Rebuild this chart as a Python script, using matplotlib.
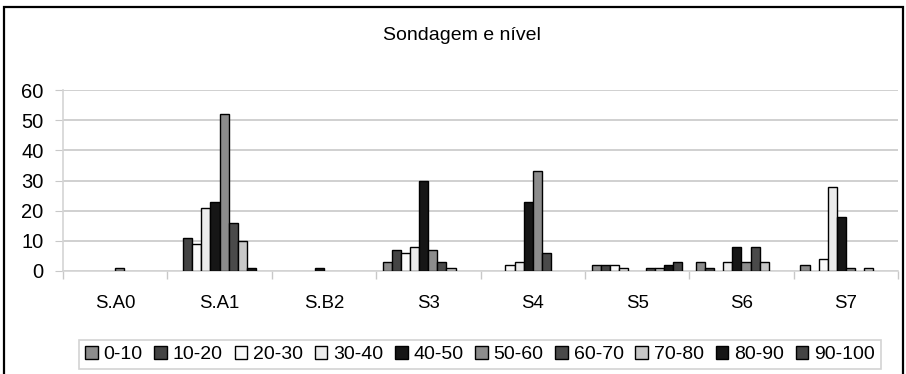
import matplotlib.pyplot as plt
from matplotlib.patches import Rectangle, Patch
import numpy as np

plt.rcParams['font.family'] = ['Liberation Sans', 'DejaVu Sans']

sondagens = ['S.A0', 'S.A1', 'S.B2', 'S3', 'S4', 'S5', 'S6', 'S7']
niveis = ['0-10', '10-20', '20-30', '30-40', '40-50', '50-60', '60-70', '70-80', '80-90', '90-100']

# valores por faixa (uma lista por faixa, na ordem das sondagens)
v_0_10 = [0, 0, 0, 3, 0, 2, 3, 2]
v_10_20 = [0, 11, 0, 7, 0, 2, 1, 0]
v_20_30 = [0, 9, 0, 6, 2, 2, 0, 4]
v_30_40 = [0, 21, 0, 8, 3, 1, 3, 28]
v_40_50 = [0, 23, 1, 30, 23, 0, 8, 18]
v_50_60 = [1, 52, 0, 7, 33, 0, 3, 1]
v_60_70 = [0, 16, 0, 3, 6, 1, 8, 0]
v_70_80 = [0, 10, 0, 1, 0, 1, 3, 1]
v_80_90 = [0, 1, 0, 0, 0, 2, 0, 0]
v_90_100 = [0, 0, 0, 0, 0, 3, 0, 0]

series = [v_0_10, v_10_20, v_20_30, v_30_40, v_40_50,
          v_50_60, v_60_70, v_70_80, v_80_90, v_90_100]
cores = ['#8c8c8c', '#444444', '#fafafa', '#ececec', '#161616',
         '#8c8c8c', '#4a4a4a', '#c8c8c8', '#161616', '#444444']

fig = plt.figure(figsize=(9.06, 3.74), dpi=100)
W, H = 906, 374

# moldura do grafico
fig.patches.append(Rectangle((4 / W, -0.05), 899 / W, 1.05 - 7 / H,
                             transform=fig.transFigure, fill=False,
                             edgecolor='black', linewidth=1.6))

ax = fig.add_axes([63 / W, 1 - 271 / H, (898 - 63) / W, (271 - 90) / H])

x = np.arange(len(sondagens))
largura = 1 / 11.5
for i, (vals, cor) in enumerate(zip(series, cores)):
    # zeros nao aparecem no original
    alturas = np.where(np.array(vals) > 0, vals, np.nan)
    ax.bar(x + (i - 4.5) * largura, alturas, largura, color=cor,
           edgecolor='black', linewidth=1.0, zorder=3)

ax.set_xlim(-0.5, len(sondagens) - 0.5)
ax.set_ylim(0, 60)
ax.set_yticks(range(0, 61, 10))
ax.yaxis.grid(True, color='#c8c8c8', linewidth=1.2, zorder=0)
ax.tick_params(axis='y', length=6, color='#c8c8c8', labelsize=14.5, pad=8)
ax.set_xticks(x)
ax.set_xticklabels(sondagens, fontsize=13.4)
ax.tick_params(axis='x', length=0, pad=17)
ax.set_xticks(np.arange(-0.5, len(sondagens)), minor=True)
ax.tick_params(axis='x', which='minor', length=6, color='#c8c8c8', width=1)

for lado in ['top', 'right']:
    ax.spines[lado].set_visible(False)
for lado in ['bottom', 'left']:
    ax.spines[lado].set_color('#d4d4d4')
    ax.spines[lado].set_linewidth(1.2)

fig.text(462 / W, 1 - 36 / H, 'Sondagem e nível', ha='center', va='center',
         fontsize=14)

handles = [Patch(facecolor=c, edgecolor='black', linewidth=1.0) for c in cores]
leg = fig.legend(handles, niveis, loc='center', ncol=10,
                 bbox_to_anchor=(480 / W, 1 - 354.5 / H), fontsize=14,
                 handlelength=0.65, handleheight=0.65, handletextpad=0.3,
                 columnspacing=0.6, borderpad=0.3, fancybox=False,
                 frameon=True)
leg.get_frame().set_edgecolor('#c8c8c8')
leg.get_frame().set_linewidth(1.2)

fig.savefig('out.png', dpi=100)
